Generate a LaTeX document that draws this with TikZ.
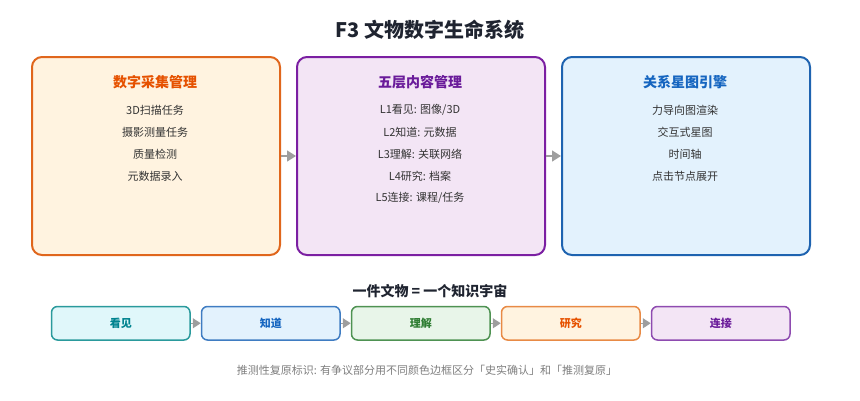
\documentclass[tikz,border=0pt]{standalone}
\usepackage{fontspec}
\setmainfont{Noto Sans CJK SC}
\usetikzlibrary{arrows.meta}
\definecolor{orB}{HTML}{E0661C}\definecolor{orF}{HTML}{FFF3E0}\definecolor{orT}{HTML}{E65100}
\definecolor{puB}{HTML}{7B1FA2}\definecolor{puF}{HTML}{F3E5F5}\definecolor{puT}{HTML}{6A1B9A}
\definecolor{blB}{HTML}{1E63B0}\definecolor{blF}{HTML}{E3F2FD}\definecolor{blT}{HTML}{1565C0}
\definecolor{teB}{HTML}{2A9A9C}\definecolor{teF}{HTML}{E0F7FA}\definecolor{teT}{HTML}{00838F}
\definecolor{sbB}{HTML}{3F7CC2}
\definecolor{grB}{HTML}{4E9252}\definecolor{grF}{HTML}{E8F5E9}\definecolor{grT}{HTML}{2E7D32}
\definecolor{soB}{HTML}{E88A45}\definecolor{spB}{HTML}{8E4BB0}
\definecolor{arr}{HTML}{9E9E9E}\definecolor{txt}{HTML}{333333}\definecolor{ttl}{HTML}{1F2430}
\tikzset{
  bigbox/.style={draw, line width=2pt, rounded corners=10pt, minimum width=248pt, minimum height=198pt, anchor=north west},
  smallbox/.style={draw, line width=1.5pt, rounded corners=6pt, minimum width=138.5pt, minimum height=33.5pt, anchor=north west, font=\fontsize{11}{13}\selectfont\bfseries},
  boxtitle/.style={font=\fontsize{14}{16}\selectfont\bfseries},
  item/.style={font=\fontsize{11}{13}\selectfont, text=txt},
  flow/.style={draw=arr, line width=1.5pt, -{Triangle[length=9pt,width=11pt]}, fill=arr},
}
\begin{document}
\begin{tikzpicture}[x=1pt,y=-1pt]
\useasboundingbox (0,0) rectangle (860,400);
\node[font=\fontsize{20}{24}\selectfont\bfseries, text=ttl] (title) at (430,30) {F3 文物数字生命系统};
% big boxes
\node[bigbox, draw=orB, fill=orF] (b1) at (31,56) {};
\node[bigbox, draw=puB, fill=puF] (b2) at (296,56) {};
\node[bigbox, draw=blB, fill=blF] (b3) at (561,56) {};
\node[boxtitle, text=orT] (t1) at (155,82) {数字采集管理};
\node[boxtitle, text=puT] (t2) at (420,82) {五层内容管理};
\node[boxtitle, text=blT] (t3) at (685,82) {关系星图引擎};
\node[item] (a1) at (155,110) {3D扫描任务};
\node[item] (a2) at (155,132) {摄影测量任务};
\node[item] (a3) at (155,154) {质量检测};
\node[item] (a4) at (155,176) {元数据录入};
\node[item] (m1) at (420,110) {L1看见: 图像/3D};
\node[item] (m2) at (420,132) {L2知道: 元数据};
\node[item] (m3) at (420,154) {L3理解: 关联网络};
\node[item] (m4) at (420,176) {L4研究: 档案};
\node[item] (m5) at (420,198) {L5连接: 课程/任务};
\node[item] (c1) at (685,110) {力导向图渲染};
\node[item] (c2) at (685,132) {交互式星图};
\node[item] (c3) at (685,154) {时间轴};
\node[item] (c4) at (685,176) {点击节点展开};
\draw[flow] (b1.east) -- (b2.west);
\draw[flow] (b2.east) -- (b3.west);
% subtitle
\node[font=\fontsize{14}{16}\selectfont\bfseries, text=ttl] (sub) at (430,291) {一件文物 = 一个知识宇宙};
% small boxes
\node[smallbox, draw=teB, fill=teF, text=teT] (s1) at (50.75,305.75) {看见};
\node[smallbox, draw=sbB, fill=blF, text=blT] (s2) at (200.75,305.75) {知道};
\node[smallbox, draw=grB, fill=grF, text=grT] (s3) at (350.75,305.75) {理解};
\node[smallbox, draw=soB, fill=orF, text=orT] (s4) at (500.75,305.75) {研究};
\node[smallbox, draw=spB, fill=puF, text=puT] (s5) at (650.75,305.75) {连接};
\foreach \a/\b in {s1/s2,s2/s3,s3/s4,s4/s5}
  \draw[flow, -{Triangle[length=8pt,width=10pt]}] (\a.east) -- (\b.west);
\node[font=\fontsize{11}{13}\selectfont, text=arr!80!black] (note) at (427,370) {推测性复原标识: 有争议部分用不同颜色边框区分「史实确认」和「推测复原」};
\end{tikzpicture}
\end{document}
